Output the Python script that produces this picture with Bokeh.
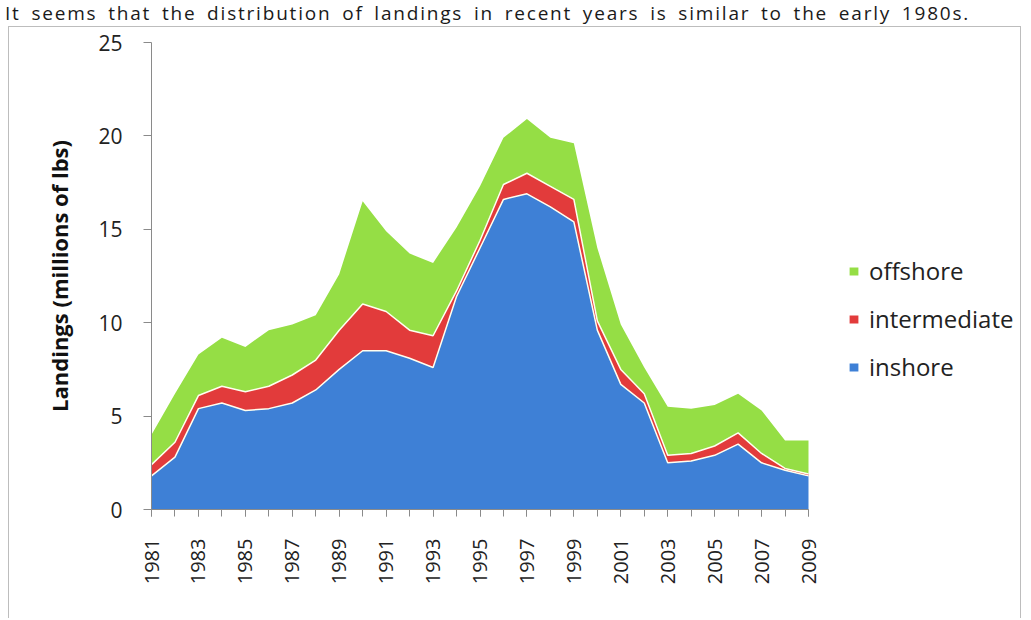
import numpy as np
from bokeh.plotting import figure
from bokeh.layouts import column
from bokeh.models import (FixedTicker, Legend, LegendItem, Div,
                          ColumnDataSource, Range1d)
from bokeh.embed import file_html
from bokeh.resources import INLINE

# ---- data (millions of lbs) ----
years = list(range(1981, 2010))
inshore = [1.8, 2.8, 5.4, 5.7, 5.3, 5.4, 5.7, 6.4, 7.5, 8.5, 8.5, 8.1, 7.6, 11.4, 14.0,
           16.6, 16.9, 16.2, 15.4, 9.6, 6.7, 5.7, 2.5, 2.6, 2.9, 3.5, 2.5, 2.1, 1.8]
intermediate = [0.6, 0.8, 0.7, 0.9, 1.0, 1.2, 1.5, 1.6, 2.1, 2.5, 2.1, 1.5, 1.7, 0.3, 0.4,
                0.8, 1.1, 1.1, 1.2, 0.5, 0.8, 0.5, 0.4, 0.4, 0.5, 0.6, 0.5, 0.1, 0.1]
offshore = [1.6, 2.6, 2.2, 2.6, 2.4, 3.0, 2.7, 2.4, 3.0, 5.5, 4.3, 4.1, 3.9, 3.4, 2.9,
            2.5, 2.9, 2.6, 3.0, 3.9, 2.4, 1.4, 2.6, 2.4, 2.2, 2.1, 2.3, 1.5, 1.8]
x_label_years = list(range(1981, 2010, 2))
y_ticks = [0, 5, 10, 15, 20, 25]
series_names = ["inshore", "intermediate", "offshore"]
colors = ["#3E80D6", "#E23B3B", "#95DE45"]
caption = "It seems that the distribution of landings in recent years is similar to the early 1980s."
y_title = "Landings (millions of lbs)"

FONT = "Open Sans"

src = ColumnDataSource(dict(year=years, inshore=inshore,
                            intermediate=intermediate, offshore=offshore))
src.data["top1"] = list(np.array(inshore))
src.data["top2"] = list(np.array(inshore) + np.array(intermediate))

# layout geometry (pixels, page coordinates of the reference)
CAP_H = 26
W = 1013
CANVAS_TOP = CAP_H + 1
H = 619 - CANVAS_TOP
FRAME_L, FRAME_R = 142, W - 4
FRAME_TOP, FRAME_BOT = 42 - CANVAS_TOP, 509 - CANVAS_TOP
PX_PER_YEAR = (808 - 151) / (years[-1] - years[0])
x_end = years[0] + (FRAME_R - FRAME_L) / PX_PER_YEAR

p = figure(width=W, height=H, output_backend="svg", toolbar_location=None,
           x_range=Range1d(years[0], x_end), y_range=Range1d(0, 25),
           min_border_left=FRAME_L, min_border_right=W - FRAME_R,
           min_border_top=FRAME_TOP, min_border_bottom=H - FRAME_BOT)
p.margin = 0
p.styles = {"margin-left": "8px",
            "border-left": "1px solid #BDBDBD",
            "border-top": "1px solid #BDBDBD",
            "border-right": "1px solid #BDBDBD"}
p.background_fill_color = "#FFFFFF"
p.border_fill_color = "#FFFFFF"
p.outline_line_color = None
p.xgrid.visible = False
p.ygrid.visible = False

rs = p.varea_stack(stackers=series_names, x="year", color=colors, source=src)
p.line("year", "top1", source=src, line_color="#FFFFF0", line_width=1.5)
p.line("year", "top2", source=src, line_color="#FFFFF0", line_width=1.5)

# axes
xa = p.xaxis[0]
xa.bounds = (years[0], years[-1])
xa.ticker = FixedTicker(ticks=x_label_years, minor_ticks=years)
xa.major_label_orientation = np.pi / 2
xa.major_label_text_font = FONT
xa.major_label_text_font_size = "20px"
xa.major_label_text_color = "#222222"
xa.major_label_standoff = 22
xa.major_tick_out = 7
xa.major_tick_in = 0
xa.minor_tick_out = 7
xa.minor_tick_in = 0
xa.axis_line_color = "#8A8A8A"
xa.major_tick_line_color = "#8A8A8A"
xa.minor_tick_line_color = "#8A8A8A"

ya = p.yaxis[0]
ya.ticker = FixedTicker(ticks=y_ticks)
ya.major_label_text_font = FONT
ya.major_label_text_font_size = "21px"
ya.major_label_text_color = "#222222"
ya.major_label_standoff = 21
ya.major_tick_out = 8
ya.major_tick_in = 0
ya.minor_tick_line_color = None
ya.axis_line_color = "#8A8A8A"
ya.major_tick_line_color = "#8A8A8A"
ya.axis_label = y_title
ya.axis_label_text_font = FONT
ya.axis_label_text_font_style = "bold"
ya.axis_label_text_font_size = "22px"
ya.axis_label_text_color = "#111111"
ya.axis_label_standoff = 21

legend = Legend(items=[LegendItem(label=series_names[i], renderers=[rs[i]]) for i in (2, 1, 0)],
                location=(848 - 151, 509 - 383), orientation="vertical",
                glyph_width=11, glyph_height=10, label_standoff=10,
                spacing=15, padding=0, margin=0,
                label_text_font=FONT, label_text_font_size="24px",
                label_text_color="#222222",
                border_line_color=None, background_fill_alpha=0)
p.add_layout(legend, "center")

cap = Div(text=caption, width=1020, height=CAP_H, margin=(0, 0, 0, 5),
          styles={"font-family": FONT, "font-size": "19px", "color": "#1A1A1A",
                  "line-height": "26px", "letter-spacing": "1.8px",
                  "word-spacing": "4px",
                  "white-space": "nowrap", "overflow": "visible"})

layout = column(cap, p, spacing=0)
open("out.html", "w").write(file_html(layout, INLINE))
